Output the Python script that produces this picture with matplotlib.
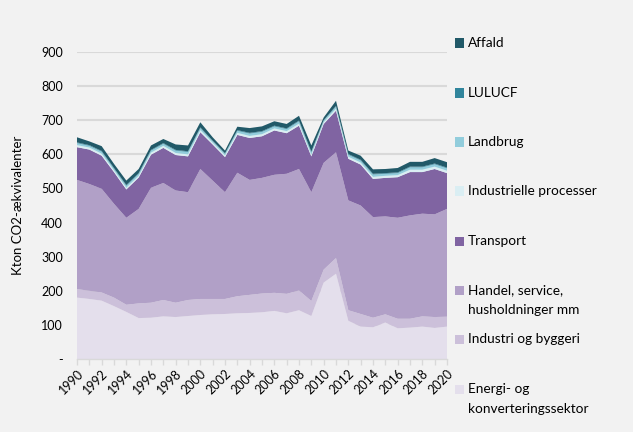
import matplotlib
matplotlib.use('Agg')
import matplotlib.pyplot as plt
from matplotlib.patches import Rectangle

plt.rcParams['font.family'] = ['Lato', 'DejaVu Sans']

### Data (Kton CO2-ækvivalenter) ###
years = list(range(1990, 2021))

energi = [180, 176, 171, 155, 138, 120, 121, 125, 123, 126,
          129, 131, 132, 134, 135, 137, 141, 134, 143, 126,
          224, 250, 112, 95, 93, 107, 90, 92, 95, 91, 95]
industri = [25, 24, 24, 25, 21, 43, 44, 48, 42, 47,
            47, 45, 44, 50, 53, 55, 53, 57, 58, 44,
            38, 46, 31, 37, 28, 24, 28, 26, 30, 32, 29]
handel = [320, 313, 304, 275, 255, 277, 337, 343, 329, 316,
          381, 347, 313, 362, 337, 339, 346, 352, 356, 319,
          313, 310, 322, 318, 295, 287, 296, 303, 301, 301, 316]
transport = [96, 101, 97, 93, 83, 92, 97, 103, 104, 105,
             108, 106, 103, 111, 123, 122, 130, 119, 127, 105,
             114, 122, 122, 120, 112, 113, 119, 127, 122, 133, 105]
indproc = [6, 6, 6, 5, 5, 5, 6, 6, 6, 6,
           6, 5, 5, 6, 6, 6, 6, 6, 6, 5,
           5, 6, 6, 6, 6, 6, 6, 7, 7, 7, 7]
landbrug = [6, 5, 6, 5, 6, 6, 6, 6, 7, 7,
            6, 5, 5, 6, 7, 7, 6, 6, 7, 7,
            5, 6, 6, 6, 7, 6, 6, 7, 7, 7, 7]
lulucf = [2, 2, 2, 2, 2, 2, 2, 2, 2, 2,
          2, 1, 1, 2, 2, 2, 2, 2, 2, 2,
          1, 2, 2, 2, 2, 2, 2, 2, 2, 2, 2]
affald = [15, 11, 14, 12, 13, 12, 13, 12, 16, 17,
          15, 10, 8, 10, 14, 14, 13, 13, 14, 18,
          8, 15, 10, 12, 13, 12, 13, 14, 14, 16, 16]

layers = [energi, industri, handel, transport, indproc, landbrug, lulucf, affald]
labels = ['Energi- og\nkonverteringssektor', 'Industri og byggeri',
          'Handel, service,\nhusholdninger mm', 'Transport',
          'Industrielle processer', 'Landbrug', 'LULUCF', 'Affald']
colors = ['#e4dfec', '#ccc0da', '#b1a0c7', '#8064a2',
          '#daeef3', '#92cddc', '#31859c', '#215968']

bg = '#f2f2f2'
W, H = 633, 432
fig = plt.figure(figsize=(W / 100, H / 100), dpi=100, facecolor=bg)
ax = fig.add_axes([77 / W, 1 - 359 / H, 370 / W, 307 / H], facecolor=bg)

ax.stackplot(years, layers, colors=colors, linewidth=0)

ax.set_xlim(1990, 2020)
ax.set_ylim(0, 900)
ax.set_yticks(range(0, 901, 100))
ax.set_yticklabels(['-'] + [str(v) for v in range(100, 901, 100)], fontsize=9)
ax.tick_params(axis='y', length=0, pad=10)
ax.yaxis.grid(True, color='#d9d9d9', linewidth=1.5)
ax.set_axisbelow(True)

ax.set_xticks(years)
ax.set_xticklabels([str(y) if y % 2 == 0 else '' for y in years],
                   rotation=45, ha='right', rotation_mode='anchor', fontsize=9)
ax.tick_params(axis='x', length=4, color='#d9d9d9', width=1, pad=2)

for s in ['top', 'right', 'left']:
    ax.spines[s].set_visible(False)
ax.spines['bottom'].set_color('#d9d9d9')
ax.spines['bottom'].set_linewidth(1)

fig.text(18 / W, 1 - 205 / H, 'Kton CO2-ækvivalenter', rotation=90,
         ha='center', va='center', fontsize=9.5)

# legend, drawn by hand to match spacing
leg_y = [389, 339, 290, 241, 191, 142, 93, 43]
for lab, col, yc in zip(labels, colors, leg_y):
    fig.add_artist(Rectangle((455 / W, 1 - (yc + 4.5) / H), 9 / W, 9 / H,
                             transform=fig.transFigure, facecolor=col, edgecolor='none'))
    for i, line in enumerate(lab.split('\n')):
        fig.text(468 / W, 1 - (yc + 20 * i) / H, line, ha='left', va='center', fontsize=9.8)

fig.savefig('out.png', dpi=100, facecolor=bg)
